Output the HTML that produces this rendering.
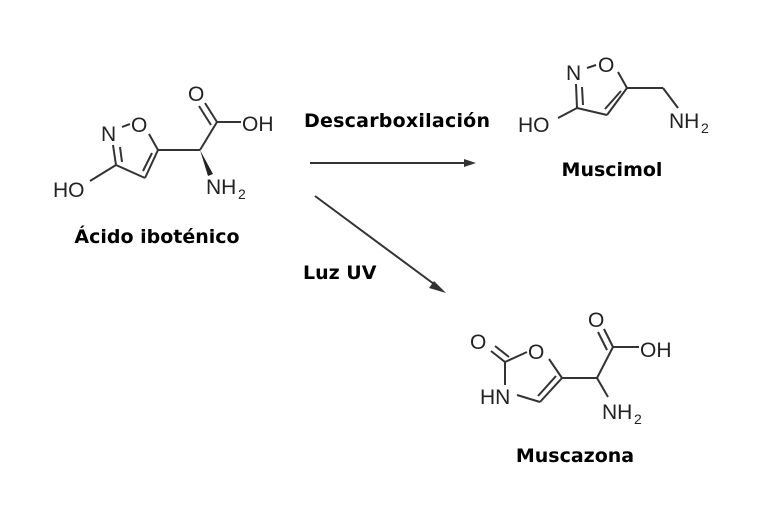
<!DOCTYPE html>
<html><head><meta charset="utf-8"><style>
html,body{margin:0;padding:0;background:#fff;width:758px;height:506px;overflow:hidden}
svg{display:block}
.a{font-family:"Liberation Sans",sans-serif;font-size:21px;fill:#222}
.s{font-family:"Liberation Sans",sans-serif;font-size:14px;fill:#222}
.l{font-family:"DejaVu Sans",sans-serif;font-size:19px;font-weight:bold;fill:#000}
line,polyline{stroke:#333;stroke-width:2;fill:none}
</style></head><body>
<svg width="758" height="506" viewBox="0 0 758 506">
<!-- Acido iboténico -->
<line x1="158" y1="150" x2="200" y2="150"/>
<line x1="158" y1="150" x2="149" y2="134"/>
<line x1="158" y1="150" x2="145" y2="178"/>
<line x1="152" y1="153" x2="143" y2="171"/>
<line x1="145" y1="178" x2="116" y2="165"/>
<line x1="116" y1="165" x2="113" y2="145"/>
<line x1="122" y1="162" x2="120" y2="147"/>
<line x1="116" y1="165" x2="90" y2="181"/>
<line x1="122" y1="127" x2="130" y2="124"/>
<line x1="200" y1="150" x2="217" y2="122"/>
<line x1="217" y1="122" x2="241" y2="122"/>
<line x1="217" y1="122" x2="205" y2="103"/>
<line x1="211" y1="125" x2="199" y2="106"/>
<polygon points="200,150 213,174 208,176" fill="#222"/>
<text class="a" x="101" y="141">N</text>
<text class="a" x="131" y="132">O</text>
<text class="a" x="188" y="101">O</text>
<text class="a" x="242" y="131">OH</text>
<text class="a" x="53" y="197">HO</text>
<text class="a" x="206" y="194">NH</text><text class="s" x="238" y="199">2</text>
<!-- Muscimol -->
<line x1="627" y1="88" x2="663" y2="88"/>
<line x1="663" y1="88" x2="678" y2="108"/>
<line x1="627" y1="88" x2="618" y2="72"/>
<line x1="627" y1="88" x2="607" y2="115"/>
<line x1="621" y1="91" x2="605" y2="109"/>
<line x1="607" y1="115" x2="577" y2="108"/>
<line x1="577" y1="108" x2="576" y2="84"/>
<line x1="583" y1="105" x2="582" y2="87"/>
<line x1="577" y1="108" x2="558" y2="118"/>
<line x1="587" y1="68" x2="596" y2="65"/>
<text class="a" x="566" y="80">N</text>
<text class="a" x="598" y="72">O</text>
<text class="a" x="518" y="132">HO</text>
<text class="a" x="669" y="128">NH</text><text class="s" x="701" y="133">2</text>
<!-- Muscazona -->
<line x1="562" y1="378" x2="597" y2="378"/>
<line x1="562" y1="378" x2="549" y2="359"/>
<line x1="562" y1="378" x2="540" y2="402"/>
<line x1="556" y1="376" x2="538" y2="396"/>
<line x1="540" y1="402" x2="517" y2="395"/>
<line x1="505" y1="385" x2="505" y2="362"/>
<line x1="505" y1="362" x2="527" y2="352"/>
<line x1="505" y1="362" x2="491" y2="351"/>
<line x1="509" y1="357" x2="495" y2="346"/>
<line x1="597" y1="378" x2="613" y2="347"/>
<line x1="613" y1="347" x2="639" y2="347"/>
<line x1="613" y1="347" x2="604" y2="329"/>
<line x1="607" y1="350" x2="598" y2="332"/>
<line x1="597" y1="378" x2="608" y2="397"/>
<text class="a" x="470" y="349">O</text>
<text class="a" x="528" y="359">O</text>
<text class="a" x="480" y="404">HN</text>
<text class="a" x="588" y="327">O</text>
<text class="a" x="640" y="357">OH</text>
<text class="a" x="602" y="419">NH</text><text class="s" x="634" y="424">2</text>
<!-- arrows -->
<line x1="310" y1="163" x2="466" y2="163" stroke-width="1.5"/>
<polygon points="476,163 464,159 464,167" fill="#333"/>
<line x1="315" y1="196" x2="438" y2="287" stroke-width="1.5"/>
<polygon points="446,293 434,281 429,288" fill="#333"/>
<!-- labels -->
<text class="l" x="157" y="243" text-anchor="middle">Ácido iboténico</text>
<text class="l" x="304" y="127" textLength="186">Descarboxilación</text>
<text class="l" x="612" y="176" text-anchor="middle">Muscimol</text>
<text class="l" x="303" y="279">Luz UV</text>
<text class="l" x="575" y="462" text-anchor="middle">Muscazona</text>
</svg>
</body></html>
